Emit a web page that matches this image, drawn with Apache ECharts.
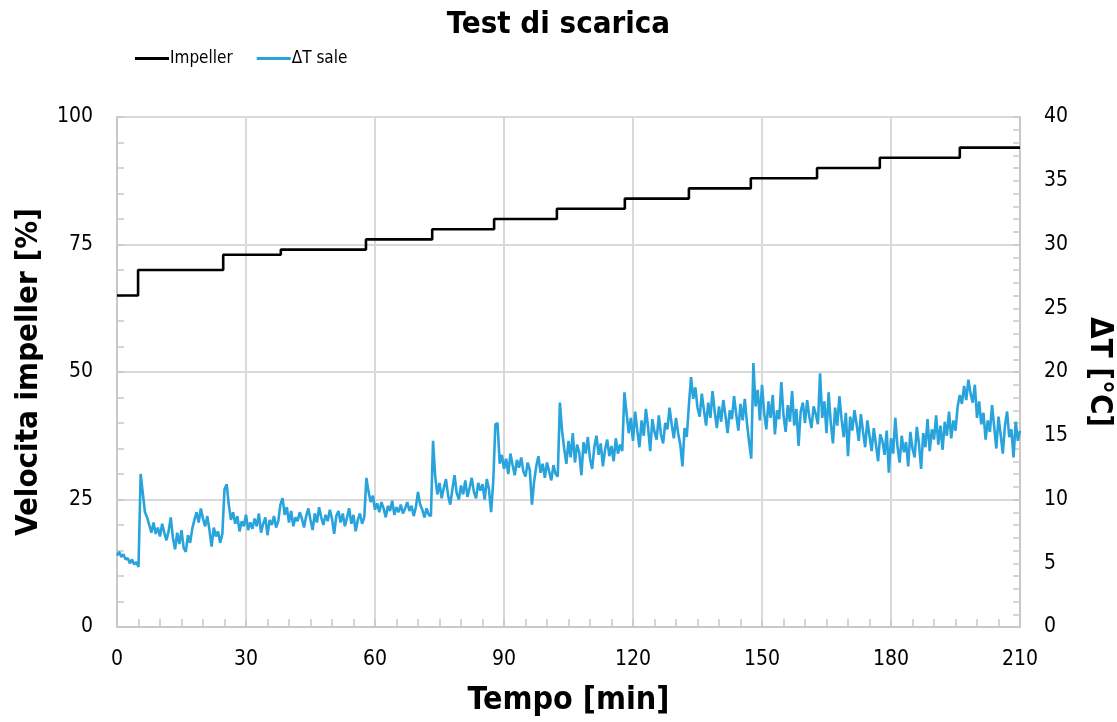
<!DOCTYPE html>
<html>
<head>
<meta charset="utf-8">
<script src="https://cdn.jsdelivr.net/npm/echarts@6/dist/echarts.min.js"></script>
<style>
  html, body { margin: 0; padding: 0; background: #fff; overflow: hidden; }
  #chart { width: 1117px; height: 722px; }
</style>
</head>
<body>
<div id="chart"></div>
<script>
// Impeller speed set-points [%]: [time (min), value] at each step change
const impellerSteps = [
  [0, 65], [4.9, 70], [24.7, 73], [38.1, 74], [57.9, 76], [73.3, 78],
  [87.7, 80], [102.3, 82], [118.1, 84], [133, 86], [147.4, 88],
  [162.8, 90], [177.4, 92], [196, 94], [210, 94]
];

// Salt temperature difference ΔT [°C], sampled every 0.5 min from t = 0
const deltaTStep = 0.5;
const deltaT = [
  5.6, 5.9, 5.5, 5.7, 5.3, 5.4, 5.0, 5.3, 4.9, 5.1, 4.7,
  12.0, 10.5, 9.0, 8.6, 8.0, 7.4, 8.2, 7.3, 7.8, 7.1,
  8.1, 7.4, 6.8, 7.5, 8.6, 7.0, 6.1, 7.4, 6.5, 7.6,
  6.2, 5.9, 7.2, 6.6, 7.7, 8.4, 9.0, 8.2, 9.3, 8.5,
  7.9, 8.7, 7.6, 6.3, 7.8, 7.1, 7.5, 6.6, 7.3, 10.8,
  11.2, 9.6, 8.4, 9.0, 8.1, 8.7, 7.5, 8.3, 7.9, 8.8,
  7.6, 8.2, 7.7, 8.5, 7.9, 8.9, 7.4, 8.1, 8.6, 7.2,
  8.4, 8.0, 8.7, 7.8, 8.3, 9.6, 10.1, 8.8, 9.4, 8.2,
  9.1, 7.9, 8.6, 8.3, 9.0, 8.5, 7.8, 8.7, 9.3, 8.4,
  7.6, 8.9, 8.2, 9.4, 8.6, 8.0, 8.8, 8.3, 9.2, 8.5,
  7.3, 8.7, 9.1, 8.2, 8.9, 7.9, 8.6, 9.3, 8.1, 8.8,
  7.5, 8.4, 8.9, 8.1, 8.6, 11.7, 10.6, 9.8, 10.3, 9.2,
  9.7, 9.0, 9.8, 9.3, 8.6, 9.5, 9.1, 9.9, 8.8, 9.4,
  9.0, 9.6, 8.9, 9.3, 9.8, 9.1, 9.5, 8.7, 9.4, 10.6,
  9.6, 9.2, 8.6, 9.3, 8.8, 8.7, 14.6, 11.8, 10.4, 11.3,
  10.1, 10.9, 11.6, 10.3, 9.6, 10.8, 11.9, 10.5, 10.0, 11.1,
  10.4, 11.5, 10.2, 10.9, 11.7, 10.6, 10.1, 11.3, 10.7, 11.2,
  10.0, 11.6, 10.8, 9.0, 11.4, 15.9, 16.0, 12.8, 13.5, 12.4,
  13.2, 12.0, 13.6, 12.7, 11.9, 13.1, 12.5, 13.3, 12.2, 11.8,
  12.9, 12.3, 9.6, 11.4, 12.6, 13.4, 12.1, 12.8, 11.7, 12.9,
  12.2, 11.5, 12.7, 12.0, 11.8, 17.6, 15.4, 14.0, 12.8, 14.6,
  13.3, 15.2, 12.9, 14.3, 13.7, 11.9, 14.5, 13.6, 14.9, 13.2,
  12.4, 14.1, 15.0, 13.5, 14.4, 12.6, 13.9, 14.7, 13.4, 14.2,
  13.0, 14.8, 13.6, 14.3, 13.8, 18.4, 16.8, 15.2, 16.4, 14.6,
  16.9, 15.4, 14.1, 16.2, 15.0, 17.1, 15.7, 13.8, 16.3, 15.3,
  14.7, 16.6, 15.1, 14.4, 16.0, 15.5, 17.2, 15.9, 14.8, 16.4,
  15.2, 14.3, 12.6, 15.6, 14.9, 17.4, 19.6, 17.9, 18.8, 17.2,
  16.5, 18.3, 17.0, 15.8, 17.6, 16.4, 18.5, 16.9, 15.6, 17.3,
  16.1, 17.8, 16.6, 15.2, 17.0, 16.3, 18.1, 16.7, 15.4, 17.5,
  16.2, 17.9, 16.0, 14.5, 13.2, 20.7, 17.3, 18.6, 16.2, 19.0,
  16.8, 15.5, 17.7, 16.4, 18.2, 15.1, 17.0, 16.3, 19.2, 16.6,
  15.3, 17.4, 16.1, 18.5, 15.8, 17.1, 14.2, 16.9, 17.6, 16.0,
  17.8, 16.5, 15.6, 17.3, 16.7, 15.9, 19.9, 16.4, 17.7, 15.2,
  18.4, 16.0, 14.4, 17.2, 15.8, 18.1, 16.3, 14.9, 16.8, 13.4,
  16.5, 15.4, 17.0, 15.9, 14.6, 16.7, 15.3, 14.1, 16.2, 15.0,
  13.8, 15.6, 14.3, 13.0, 15.1, 14.6, 13.5, 15.4, 12.1, 14.8,
  13.6, 16.4, 14.2, 12.9, 15.0, 13.7, 14.5, 12.6, 15.3, 14.0,
  13.3, 15.7, 14.4, 12.4, 15.2, 14.1, 16.3, 13.8, 15.5, 14.7,
  16.6, 14.3, 15.8, 13.9, 16.1, 15.0, 16.9, 14.8, 16.2, 15.4,
  17.3, 18.2, 17.5, 18.9, 17.8, 19.4, 18.3, 17.6, 19.0, 16.4,
  17.7, 15.9, 16.8, 14.7, 16.2, 15.3, 17.4, 15.7, 14.0, 16.5,
  15.1, 13.6, 15.8, 16.9, 14.9, 15.5, 13.3, 16.1, 14.6, 15.4
];

const xTicks = [0, 30, 60, 90, 120, 150, 180, 210];

const FONT = "'Liberation Sans Narrow', 'DejaVu Sans Condensed', 'Roboto', sans-serif";
const GRID_COLOR = '#d9d9d9';
const AXIS_COLOR = '#c8c8c8';

const deltaTPoints = deltaT.map((v, i) => [i * deltaTStep, v]);

const chart = echarts.init(document.getElementById('chart'), null, { renderer: 'canvas' });

chart.setOption({
  backgroundColor: '#ffffff',
  animation: false,
  textStyle: { fontFamily: FONT },
  title: {
    text: 'Test di scarica',
    left: 'center',
    top: 4,
    textStyle: { fontFamily: FONT, fontSize: 31, fontWeight: 'bold', color: '#000' }
  },
  legend: {
    left: 130,
    top: 45,
    itemGap: 24,
    itemWidth: 34,
    itemHeight: 3,
    icon: 'rect',
    textStyle: { fontFamily: FONT, fontSize: 17, color: '#000', padding: [0, 0, 0, -4] },
    data: ['Impeller', 'ΔT sale']
  },
  grid: {
    left: 117, right: 97, top: 117, bottom: 95,
    containLabel: false,
    outerBoundsMode: 'none'
  },
  xAxis: {
    type: 'value',
    min: 0,
    max: 210,
    interval: 30,
    name: 'Tempo [min]',
    nameLocation: 'middle',
    nameGap: 58,
    nameTextStyle: { fontFamily: FONT, fontSize: 32, fontWeight: 'bold', color: '#000' },
    axisLine: { show: true, lineStyle: { color: AXIS_COLOR, width: 2 } },
    axisTick: { show: true, inside: true, length: 8, lineStyle: { color: AXIS_COLOR, width: 1.5 } },
    minorTick: { show: true, splitNumber: 6, length: 8, lineStyle: { color: AXIS_COLOR, width: 1.5 } },
    axisLabel: {
      fontFamily: FONT, fontSize: 21, color: '#000', margin: 22,
      formatter: v => (xTicks.includes(v) ? String(v) : '')
    },
    splitLine: { show: true, lineStyle: { color: GRID_COLOR, width: 2 } }
  },
  yAxis: [
    {
      type: 'value',
      position: 'left',
      min: 0,
      max: 100,
      interval: 25,
      name: 'Velocita impeller [%]',
      nameLocation: 'middle',
      nameGap: 73,
      nameTextStyle: { fontFamily: FONT, fontSize: 31, fontWeight: 'bold', color: '#000' },
      axisLine: { show: true, lineStyle: { color: AXIS_COLOR, width: 2 } },
      axisTick: { show: true, inside: true, length: 7, lineStyle: { color: AXIS_COLOR, width: 1.5 } },
      minorTick: { show: true, splitNumber: 5, length: 7, lineStyle: { color: AXIS_COLOR, width: 1.5 } },
      axisLabel: { fontFamily: FONT, fontSize: 21, color: '#000', margin: 24 },
      splitLine: { show: true, lineStyle: { color: GRID_COLOR, width: 2 } }
    },
    {
      type: 'value',
      position: 'right',
      min: 0,
      max: 40,
      interval: 5,
      name: 'ΔT [°C]',
      nameLocation: 'middle',
      nameRotate: -90,
      nameGap: 64,
      nameTextStyle: { fontFamily: FONT, fontSize: 31, fontWeight: 'bold', color: '#000' },
      axisLine: { show: true, lineStyle: { color: AXIS_COLOR, width: 2 } },
      axisTick: { show: true, inside: true, length: 7, lineStyle: { color: AXIS_COLOR, width: 1.5 } },
      minorTick: { show: true, splitNumber: 5, length: 7, lineStyle: { color: AXIS_COLOR, width: 1.5 } },
      axisLabel: { fontFamily: FONT, fontSize: 21, color: '#000', margin: 24 },
      splitLine: { show: false }
    }
  ],
  series: [
    {
      name: 'Impeller',
      type: 'line',
      yAxisIndex: 0,
      step: 'end',
      data: impellerSteps,
      symbol: 'none',
      color: '#000000',
      lineStyle: { color: '#000000', width: 2.6 },
      z: 3
    },
    {
      name: 'ΔT sale',
      type: 'line',
      yAxisIndex: 1,
      data: deltaTPoints,
      symbol: 'none',
      color: '#29a3dc',
      lineStyle: { color: '#29a3dc', width: 2.6 },
      z: 2
    }
  ]
});
</script>
</body>
</html>
